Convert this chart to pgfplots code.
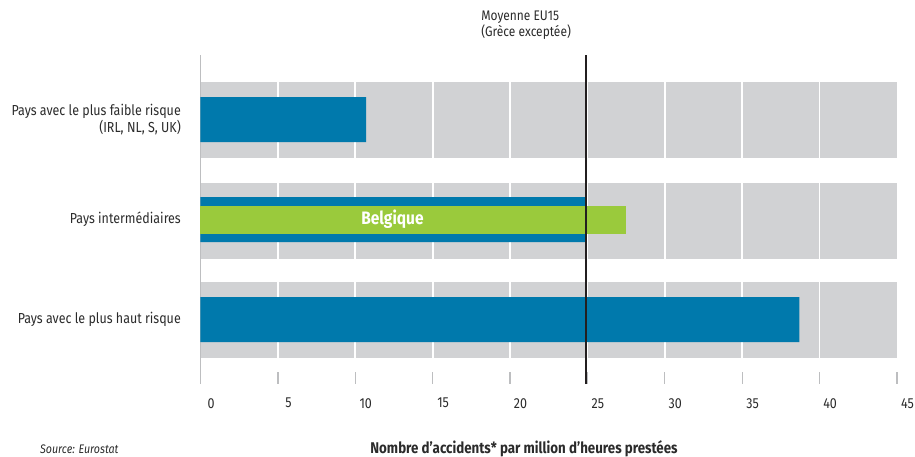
\documentclass[border=0pt]{standalone}
\usepackage{pgfplots}
\pgfplotsset{compat=1.18}
\usepackage{fontspec}
\setmainfont[FakeStretch=0.86]{Fira Sans}

\definecolor{barblue}{HTML}{0079AC}
\definecolor{bargreen}{HTML}{9ACA3C}
\definecolor{bandgray}{HTML}{D1D2D4}
\definecolor{tickgray}{HTML}{BDBEC0}
\definecolor{txt}{HTML}{2B2B2B}
\definecolor{avgline}{HTML}{231F20}

\newcommand{\lblfont}{\fontsize{14.5bp}{17.5bp}\selectfont}
\newcommand{\apos}{\symbol{39}}

\begin{document}
\begin{tikzpicture}
\begin{axis}[
  name=ax,
  scale only axis,
  width=696.5bp, height=364bp,
  xmin=0, xmax=45,
  ymin=-0.64, ymax=3,
  axis line style={draw=none},
  xtick={0,5,...,45},
  xtick pos=bottom,
  ytick={0,1,2},
  ytick pos=left,
  yticklabels={Pays avec le plus haut risque, Pays intermédiaires,
               {Pays avec le plus faible risque\\(IRL, NL, S, UK)}},
  tick align=inside,
  major tick length=11.5bp,
  xtick style={draw=tickgray, line width=1.3bp},
  ytick style={draw=none},
  /pgf/number format/assume math mode=true,
  every tick label/.append style={font=\lblfont, text=txt},
  xticklabel style={anchor=center, yshift=-19.5bp, xshift=10.5bp},
  yticklabel style={anchor=east, align=right, inner sep=0pt, xshift=-19.5bp},
  clip=false,
]
  % grey bands behind each category
  \fill[bandgray] (axis cs:0,-0.38) rectangle (axis cs:45,0.38);
  \fill[bandgray] (axis cs:0,0.61) rectangle (axis cs:45,1.37);
  \fill[bandgray] (axis cs:0,1.62) rectangle (axis cs:45,2.38);
  % white vertical gridlines across the bands
  \pgfplotsinvokeforeach{5,10,15,20,25,30,35,40}{
    \draw[white, line width=1.7bp] (axis cs:#1,-0.38) -- (axis cs:#1,2.38);
  }
  % left axis line
  \draw[tickgray, line width=1.3bp] (axis cs:0,-0.64) -- (axis cs:0,2.647);

  % country groups
  \addplot[xbar, bar width=0.45, bar shift=0, fill=barblue, draw=none]
    coordinates {(38.7,0) (24.9,1) (10.7,2)};
  % Belgium
  \addplot[xbar, bar width=0.28, bar shift=0, fill=bargreen, draw=none]
    coordinates {(27.5,1)};

  % EU15 average
  \draw[avgline, line width=2.6bp] (axis cs:24.9,-0.645) -- (axis cs:24.9,2.647);
  \node[anchor=west, align=left, inner sep=0pt, text=txt, font=\fontsize{13.9bp}{16bp}\selectfont]
    at (axis cs:18.13,2.947) {Moyenne EU15\\(Grèce exceptée)};

  \node[text=white, font=\fontsize{18bp}{20bp}\selectfont\bfseries]
    at (axis cs:12.4,1) {Belgique};

  % footer
  \node[anchor=west, inner sep=0pt, text=txt, font=\fontsize{12.4bp}{14bp}\selectfont\itshape]
    at (axis cs:-10.37,-1.293) {Source: Eurostat};
  \node[inner sep=0pt, text=txt, font=\fontsize{15.5bp}{17bp}\selectfont\bfseries]
    at (axis cs:20.9,-1.293) {Nombre d\apos accidents* par million d\apos heures prestées};
\end{axis}
\pgfresetboundingbox
\useasboundingbox ([xshift=-200.5bp,yshift=-73.3bp]ax.south west)
  rectangle ([xshift=714.5bp,yshift=383.7bp]ax.south west);
\end{tikzpicture}
\end{document}
